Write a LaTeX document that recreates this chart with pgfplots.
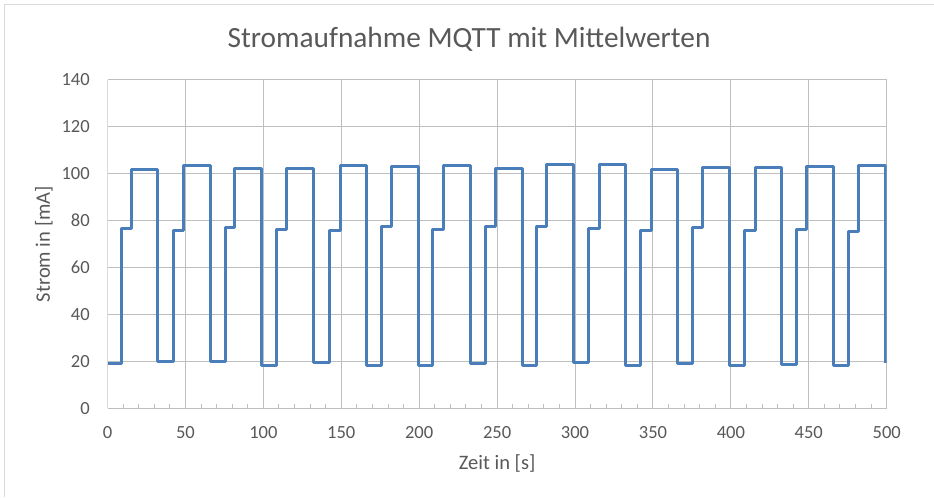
\documentclass[border=0pt]{standalone}
\usepackage{fontspec}
\setmainfont{Carlito}
\usepackage{pgfplots}
\pgfplotsset{compat=1.18}
\definecolor{linecol}{RGB}{74,126,187}
\definecolor{txt}{RGB}{89,89,89}
\definecolor{grid}{RGB}{217,217,217}
\definecolor{axisc}{RGB}{191,191,191}
\definecolor{frame}{RGB}{217,217,217}
\begin{document}
\begin{tikzpicture}
\useasboundingbox[fill=white] (0pt,0pt) rectangle ({934*0.75pt},{-497*0.75pt});
\draw[frame, line width=0.75pt] ({4*0.75pt},{-497*0.75pt}) -- ({4*0.75pt},{-4.7*0.75pt}) -- ({934*0.75pt},{-4.7*0.75pt});
\begin{axis}[
  at={({107.5*0.75pt},{-408.2*0.75pt})}, anchor=south west,
  scale only axis, width=584.4pt, height=246.2pt,
  xmin=0, xmax=500, ymin=0, ymax=140,
  enlargelimits=false,
  xtick={0,50,...,500}, ytick={0,20,...,140},
  minor x tick num=4,
  axis x line*=bottom, axis y line*=left,
  x axis line style={axisc, line width=0.75pt, -},
  y axis line style={grid, line width=0.75pt, -},
  grid=major, major grid style={grid, line width=0.75pt},
  major tick length=0pt,
  minor tick length=3pt,
  tick align=inside,
  minor tick style={axisc, line width=0.75pt},
  ytick style={draw=none},
  /pgf/number format/assume math mode=true,
  tick label style={font=\fontsize{13.9}{16}\selectfont, text=txt},
  yticklabel style={inner xsep=0pt, xshift=-13.1pt, anchor=east},
  xticklabel style={inner ysep=0pt, yshift=-13.7pt, anchor=north},
  xlabel={Zeit in [s]}, ylabel={Strom in [mA]},
  label style={font=\fontsize{15.4}{18}\selectfont, text=txt},
  xlabel style={at={(axis description cs:0.5,-0.1858)}, anchor=base},
  ylabel style={at={(axis description cs:-0.0738,0.5)}, anchor=base},
  title={Stromaufnahme MQTT mit Mittelwerten},
  title style={at={(axis description cs:0.464,1.073)}, anchor=base, font=\fontsize{22}{26}\selectfont, text=txt},
]
\addplot[const plot, linecol, line width=2.25pt, line join=round] coordinates {
(0,19.1) (9.1,76.7) (15.5,102.0) (32.2,20.0)
(42.2,76.0) (48.7,103.4) (65.8,20.0)
(75.4,77.0) (81.8,102.3) (99.0,18.4)
(108.6,76.3) (115.0,102.3) (132.5,19.4)
(142.2,76.0) (149.2,103.4) (166.0,18.4)
(175.5,77.4) (182.4,103.0) (199.5,18.4)
(208.7,76.4) (215.5,103.3) (232.7,19.1)
(242.3,77.4) (248.7,102.3) (266.2,18.4)
(275.5,77.4) (281.9,104.0) (299.0,19.7)
(308.6,76.5) (315.5,104.0) (332.5,18.4)
(342.0,76.0) (348.9,102.0) (365.7,19.1)
(375.4,77.1) (382.0,102.6) (399.1,18.4)
(408.7,75.6) (415.6,102.8) (432.7,18.8)
(441.9,76.4) (448.3,103.0) (465.9,18.3)
(475.5,75.4) (481.9,103.7) (499.5,19.1)
};
\end{axis}
\end{tikzpicture}
\end{document}
